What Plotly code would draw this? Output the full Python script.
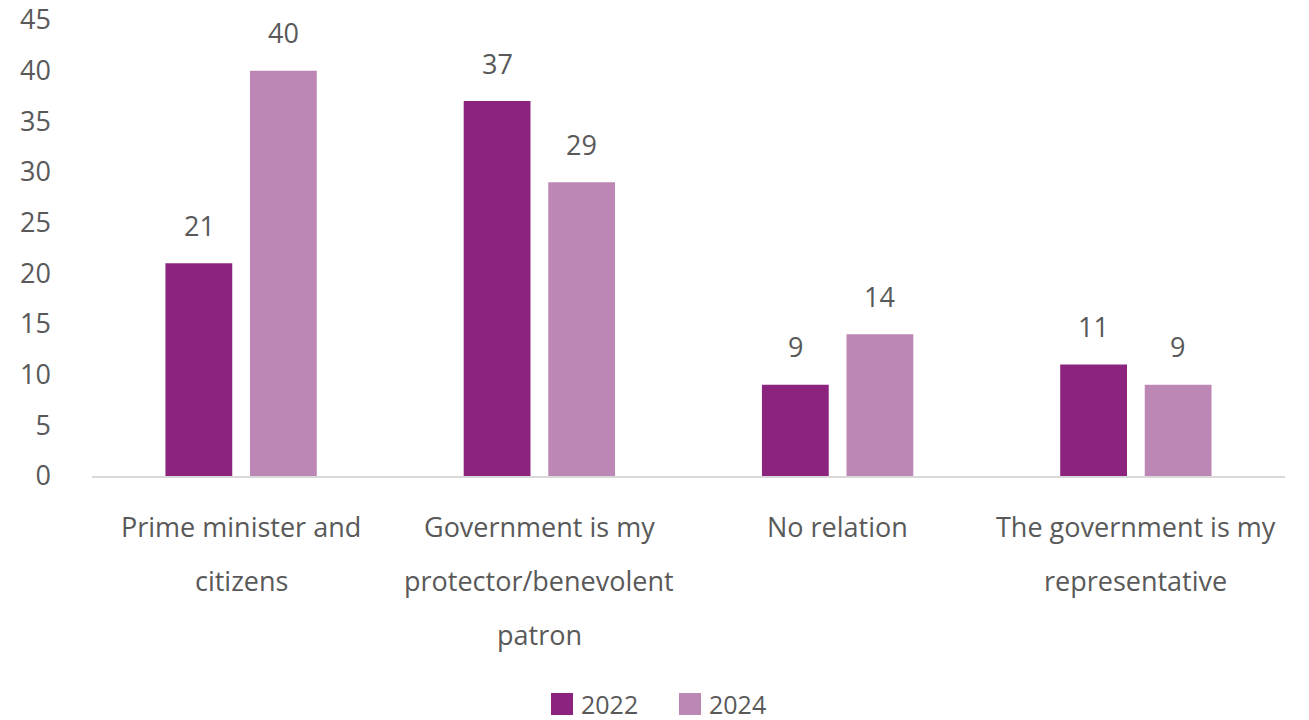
import plotly.graph_objects as go

# Survey responses: perceived relationship between government and citizens (%)
category_lines = [
    ["Prime minister and", "citizens"],
    ["Government is my", "protector/benevolent", "patron"],
    ["No relation"],
    ["The government is my", "representative"],
]
categories = [" ".join(lines) for lines in category_lines]
values_2022 = [21, 37, 9, 11]
values_2024 = [40, 29, 14, 9]
years = ["2022", "2024"]

colors = {"2022": "#8C247F", "2024": "#BC87B5"}
text_color = "#595959"
font_family = "'Open Sans', Lato, sans-serif"
font_size = 27
legend_font_size = 25

# Plot-area geometry in pixels (used to place the custom legend)
W, H = 1309, 720
M_L, M_R, M_T, M_B = 92, 24, 20, 244
plot_w = W - M_L - M_R
plot_h = H - M_T - M_B


def px_to_paper(px, py):
    return (px - M_L) / plot_w, (H - M_B - py) / plot_h


fig = go.Figure()
for year, vals in zip(years, [values_2022, values_2024]):
    fig.add_trace(go.Bar(
        x=categories, y=vals, name=year, showlegend=False,
        marker=dict(color=colors[year], line=dict(width=0)),
        hoverinfo="x+y+name",
    ))

annotations = []
shapes = []

# Value labels above each bar
bar_offset = 42
for year, vals, sign in zip(years, [values_2022, values_2024], [-1, 1]):
    for cat, v in zip(categories, vals):
        annotations.append(dict(
            x=cat, y=v, xref="x", yref="y", text=str(v), showarrow=False,
            xshift=sign * bar_offset, yshift=38, yanchor="middle",
            font=dict(family=font_family, size=font_size, color=text_color),
        ))

# Wrapped category labels with generous line spacing
for cat, lines in zip(categories, category_lines):
    for i, line in enumerate(lines):
        annotations.append(dict(
            x=cat, y=0, xref="x", yref="y", text=line, showarrow=False,
            yshift=-50 - 54 * i, yanchor="middle",
            font=dict(family=font_family, size=font_size, color=text_color),
        ))

# Legend: square swatches followed by the year label
legend_swatch_left = [551, 679]
swatch_size = 22
legend_center_y = 704
for year, left in zip(years, legend_swatch_left):
    x0, y0 = px_to_paper(left, legend_center_y + swatch_size / 2)
    x1, y1 = px_to_paper(left + swatch_size, legend_center_y - swatch_size / 2)
    shapes.append(dict(
        type="rect", xref="paper", yref="paper", x0=x0, x1=x1, y0=y0, y1=y1,
        fillcolor=colors[year], line=dict(width=0),
    ))
    tx, ty = px_to_paper(left + swatch_size + 7, legend_center_y)
    annotations.append(dict(
        x=tx, y=ty, xref="paper", yref="paper", text=year, showarrow=False,
        xanchor="left", yanchor="middle", borderpad=0,
        font=dict(family=font_family, size=legend_font_size, color=text_color),
    ))

fig.update_layout(
    width=W, height=H,
    margin=dict(l=M_L, r=M_R, t=M_T, b=M_B, autoexpand=False),
    paper_bgcolor="white", plot_bgcolor="white",
    barmode="group", bargap=0.433, bargroupgap=0.21,
    font=dict(family=font_family, size=font_size, color=text_color),
    showlegend=False,
    annotations=annotations,
    shapes=shapes,
    xaxis=dict(
        showticklabels=False, ticks="", showgrid=False, automargin=False,
        showline=True, linecolor="#D9D9D9", linewidth=1.5,
    ),
    yaxis=dict(
        range=[0, 45], dtick=5, showgrid=False, zeroline=False,
        showline=False, ticks="", ticklabelstandoff=40, automargin=False,
        tickfont=dict(family=font_family, size=font_size, color=text_color),
    ),
)

fig.write_html("out.html")
